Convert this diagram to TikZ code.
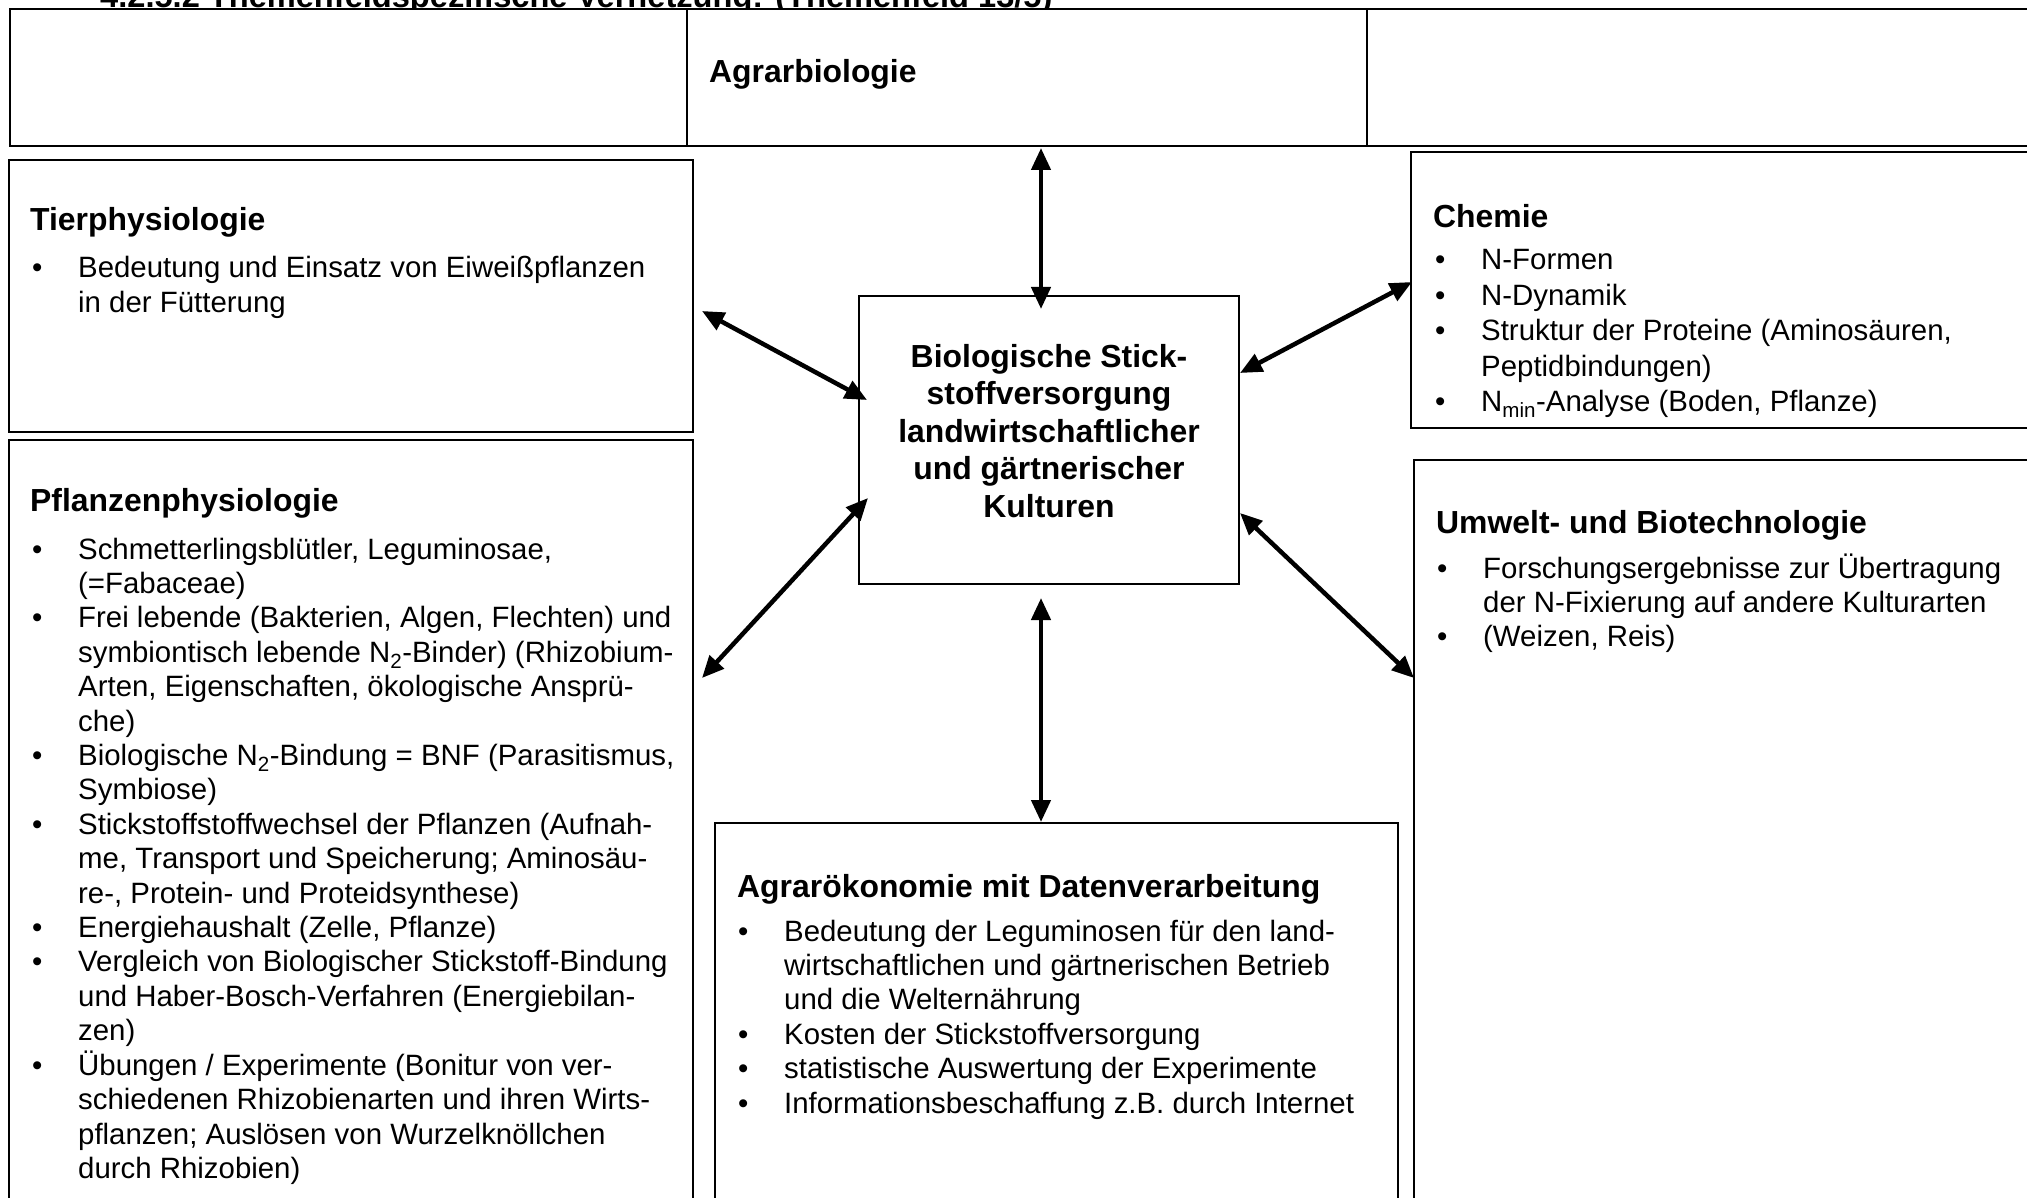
\documentclass[tikz,border=0pt]{standalone}
\usepackage{fontspec}
\setmainfont{Liberation Sans}
\usetikzlibrary{arrows.meta}
% text sizes: body 12pt and headings 13pt at 2.45 units per point
\newcommand\bodyfont{\fontsize{29.4}{34.4}\selectfont}
\newcommand\chemfont{\fontsize{29.4}{35.4}\selectfont}
\newcommand\headfont{\fontsize{31.9}{37.5}\selectfont\bfseries}
\newcommand\titlefont{\fontsize{32.6}{38}\selectfont\bfseries}
% bullet item and continuation line with hanging indent
\newcommand\itm[1]{\makebox[46pt][l]{\textbullet}#1}
\newcommand\cnt[1]{\hspace*{46pt}#1}
\begin{document}
\begin{tikzpicture}[x=1pt,y=-1pt,
  box/.style={draw, line width=2.2pt, fill=white, anchor=north west,
    inner sep=0pt, outer sep=0pt},
  rowcell/.style={box, line width=2.6pt},
  head/.style={anchor=base west, inner sep=0pt, font=\headfont},
  list/.style={anchor=base west, inner sep=0pt, font=\bodyfont},
  conn/.style={line width=4.5pt, {Triangle[length=22pt,width=19pt]}-{Triangle[length=22pt,width=19pt]}}]
\path[use as bounding box] (0,0) rectangle (2027,1198);
\clip (0,0) rectangle (2027,1198);

% section title, partly cut off by the page edge
\node[anchor=base west, inner sep=0pt, font=\titlefont] (title) at (100,8) {4.2.5.2 Themenfeldspezifische Vernetzung: (Themenfeld 13/5)};

% header row
\node[rowcell, minimum width=677pt, minimum height=137pt] (cellL) at (10,9) {};
\node[rowcell, minimum width=680pt, minimum height=137pt] (cellM) at (687,9) {};
\node[rowcell, minimum width=700pt, minimum height=137pt] (cellR) at (1367,9) {};
\node[head] (agrbio) at (709,83) {Agrarbiologie};

% subject boxes
\node[box, minimum width=684pt, minimum height=272pt] (tier) at (9,160) {};
\node[box, minimum width=684pt, minimum height=780pt] (pflanze) at (9,440) {};
\node[box, minimum width=380pt, minimum height=288pt] (center) at (859,296) {};
\node[box, minimum width=640pt, minimum height=276pt] (chemie) at (1411,152) {};
\node[box, minimum width=640pt, minimum height=760pt] (umwelt) at (1414,460) {};
\node[box, minimum width=683pt, minimum height=390pt] (agroek) at (715,823) {};

% Tierphysiologie
\node[head] (tierH) at (30,231) {Tierphysiologie};
\node[list] (tierL) at (32,278) {\begin{tabular}[t]{@{}l@{}}
\itm{Bedeutung und Einsatz von Eiweißpflanzen}\\
\cnt{in der Fütterung}
\end{tabular}};

% Pflanzenphysiologie
\node[head] (pflH) at (30,511) {Pflanzenphysiologie};
\node[list] (pflL) at (32,559) {\begin{tabular}[t]{@{}l@{}}
\itm{Schmetterlingsblütler, Leguminosae,}\\
\cnt{(=Fabaceae)}\\
\itm{Frei lebende (Bakterien, Algen, Flechten) und}\\
\cnt{symbiontisch lebende N\textsubscript{2}-Binder) (Rhizobium-}\\
\cnt{Arten, Eigenschaften, ökologische Ansprü-}\\
\cnt{che)}\\
\itm{Biologische N\textsubscript{2}-Bindung = BNF (Parasitismus,}\\
\cnt{Symbiose)}\\
\itm{Stickstoffstoffwechsel der Pflanzen (Aufnah-}\\
\cnt{me, Transport und Speicherung; Aminosäu-}\\
\cnt{re-, Protein- und Proteidsynthese)}\\
\itm{Energiehaushalt (Zelle, Pflanze)}\\
\itm{Vergleich von Biologischer Stickstoff-Bindung}\\
\cnt{und Haber-Bosch-Verfahren (Energiebilan-}\\
\cnt{zen)}\\
\itm{Übungen / Experimente (Bonitur von ver-}\\
\cnt{schiedenen Rhizobienarten und ihren Wirts-}\\
\cnt{pflanzen; Auslösen von Wurzelknöllchen}\\
\cnt{durch Rhizobien)}
\end{tabular}};

% central topic
\node[anchor=base, inner sep=0pt, font=\headfont] (centerT) at (1049,367) {\begin{tabular}[t]{@{}c@{}}
Biologische Stick-\\
stoffversorgung\\
landwirtschaftlicher\\
und gärtnerischer\\
Kulturen
\end{tabular}};

% Chemie
\node[head] (chemH) at (1433,228) {Chemie};
\node[list, font=\chemfont] (chemL) at (1435,270) {\begin{tabular}[t]{@{}l@{}}
\itm{N-Formen}\\
\itm{N-Dynamik}\\
\itm{Struktur der Proteine (Aminosäuren,}\\
\cnt{Peptidbindungen)}\\
\itm{N\textsubscript{min}-Analyse (Boden, Pflanze)}
\end{tabular}};

% Umwelt- und Biotechnologie
\node[head] (umwH) at (1436,533) {Umwelt- und Biotechnologie};
\node[list] (umwL) at (1437,578) {\begin{tabular}[t]{@{}l@{}}
\itm{Forschungsergebnisse zur Übertragung}\\
\cnt{der N-Fixierung auf andere Kulturarten}\\
\itm{(Weizen, Reis)}
\end{tabular}};

% Agrarökonomie mit Datenverarbeitung
\node[head] (agrH) at (737,897) {Agrarökonomie mit Datenverarbeitung};
\node[list] (agrL) at (738,941) {\begin{tabular}[t]{@{}l@{}}
\itm{Bedeutung der Leguminosen für den land-}\\
\cnt{wirtschaftlichen und gärtnerischen Betrieb}\\
\cnt{und die Welternährung}\\
\itm{Kosten der Stickstoffversorgung}\\
\itm{statistische Auswertung der Experimente}\\
\itm{Informationsbeschaffung z.B. durch Internet}
\end{tabular}};

% arrow end points
\coordinate (upA) at (1041,148);   \coordinate (upB) at (1041,309);
\coordinate (dnA) at (1041,598);   \coordinate (dnB) at (1041,822);
\coordinate (tiA) at (702,311);    \coordinate (tiB) at (867,400);
\coordinate (plA) at (702,678);    \coordinate (plB) at (868,498);
\coordinate (chA) at (1412,282);   \coordinate (chB) at (1240,373);
\coordinate (umA) at (1414,678);   \coordinate (umB) at (1240,513);

% double-headed connectors
\draw[conn] (upA) -- (upB);
\draw[conn] (dnA) -- (dnB);
\draw[conn] (tiA) -- (tiB);
\draw[conn] (plA) -- (plB);
\draw[conn] (chA) -- (chB);
\draw[conn] (umA) -- (umB);
\end{tikzpicture}
\end{document}
